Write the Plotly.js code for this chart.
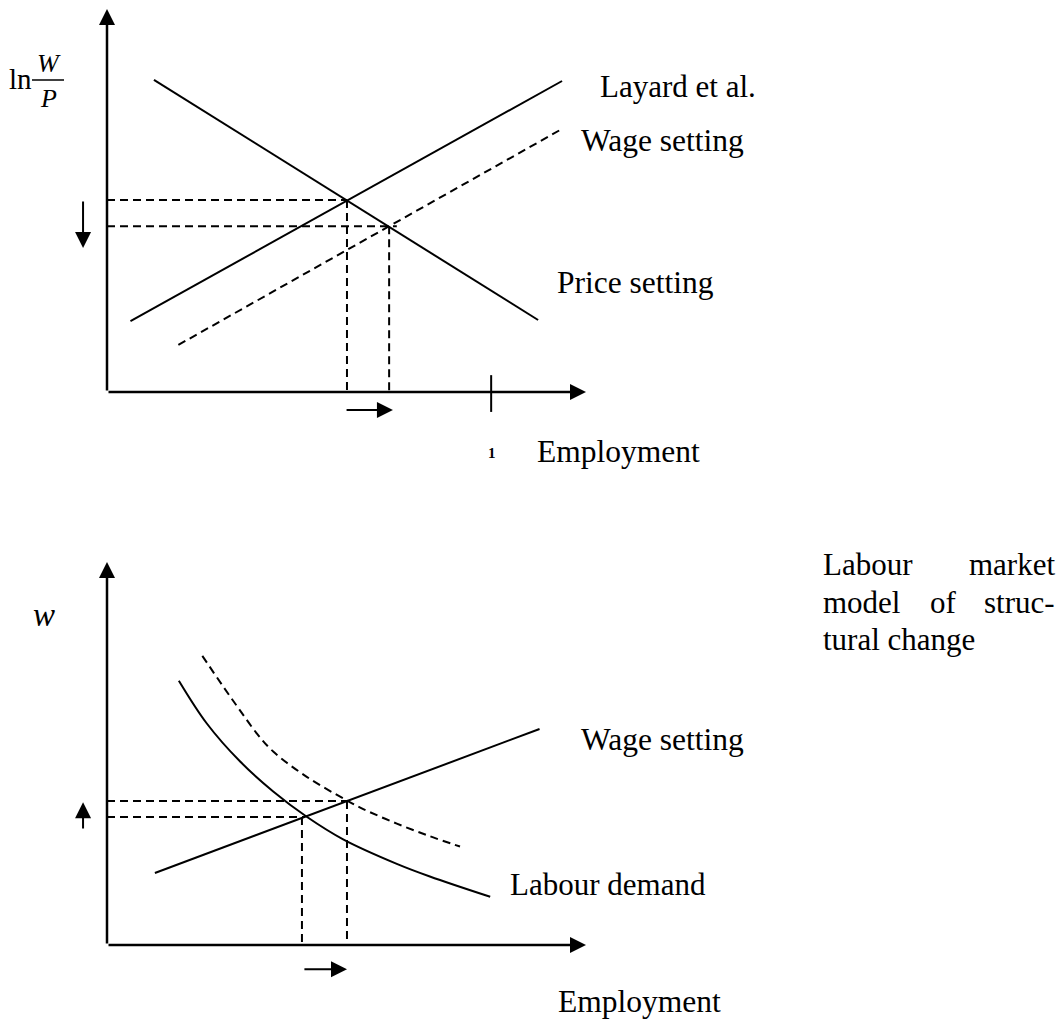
<!DOCTYPE html>
<html>
<head>
<meta charset="utf-8">
<script src="https://cdn.plot.ly/plotly-3.0.1.min.js"></script>
<style>
  html, body { margin: 0; padding: 0; background: #ffffff; }
  #chart { width: 1062px; height: 1021px; }
</style>
</head>
<body>
<div id="chart"></div>
<script>
// ---------------- DATA (diagram units: axes run 0..10) ----------------
// Axes of each diagram (origin to arrow tip)
const axisX = [0, 10];
const axisY = [0, 10];

// Top diagram: Layard et al.
const topPriceX   = [0.98, 9.0];
const topPriceY   = [8.15, 1.88];
const topWageX    = [0.49, 9.5];
const topWageY    = [1.85, 8.12];
const topWageNewX = [1.49, 9.5];
const topWageNewY = [1.23, 6.87];
const topEqOld    = [5.01, 5.01];   // [employment, ln W/P]
const topEqNew    = [5.89, 4.33];
const topGuideEnd = 6.05;           // horizontal guide of new equilibrium ends here
const topTickX    = 8.02;           // full-employment tick
const topTickY    = [0.44, -0.52];
const topDownArrowX = -0.5, topDownArrowY = [5.01, 3.76];
const topRightArrowY = -0.47, topRightArrowX = [4.97, 5.97];

// Bottom diagram: labour market model of structural change
const botWageX = [1.0, 9.03];
const botWageY = [1.88, 5.64];
const botDemandX = [1.50, 2.08, 2.78, 3.47, 4.17, 4.93, 6.05, 6.74, 8.00];
const botDemandY = [6.90, 5.79, 4.79, 4.01, 3.35, 2.76, 2.12, 1.79, 1.26];
const botDemandNewX = [1.99, 2.43, 2.78, 3.13, 3.47, 4.17, 5.00, 5.35, 6.05, 6.74, 7.37];
const botDemandNewY = [7.55, 6.74, 6.12, 5.52, 5.05, 4.39, 3.78, 3.55, 3.17, 2.84, 2.57];
const botEqOldY = 3.34, botEqOldX = 4.07;
const botEqNewY = 3.76, botEqNewX = 5.01;
const botOldGuideEnd = 4.13;
const botUpArrowX = -0.5, botUpArrowY = [3.0, 3.73];
const botRightArrowY = -0.63, botRightArrowX = [4.09, 5.01];

// ---------------- LAYOUT GEOMETRY ----------------
const W = 1062, H = 1021;
const SX = 47.9, SY = 38.3;           // px per diagram unit
const ORIGIN_X = 107;                  // px of employment = 0
const TOP_ORIGIN_Y = 392, BOT_ORIGIN_Y = 945;

const FONT = "Liberation Serif, 'Times New Roman', Times, serif";
const BLACK = '#000000';
const DASH = '8px,5px';

function line(x, y, yaxis, dashed, width) {
  return {
    type: 'scatter', mode: 'lines', x: x, y: y, yaxis: yaxis,
    line: {color: BLACK, width: width || 2, dash: dashed ? DASH : 'solid'},
    hoverinfo: 'skip', showlegend: false
  };
}
function curve(x, y, yaxis, dashed) {
  const t = line(x, y, yaxis, dashed, 2);
  t.line.shape = 'spline';
  t.line.smoothing = 1;
  return t;
}

const traces = [
  // top diagram
  line(topPriceX, topPriceY, 'y', false),
  line(topWageX, topWageY, 'y', false),
  line(topWageNewX, topWageNewY, 'y', true),
  line([0, topEqOld[0]], [topEqOld[1], topEqOld[1]], 'y', true),
  line([0, topGuideEnd], [topEqNew[1], topEqNew[1]], 'y', true),
  line([topEqOld[0], topEqOld[0]], [topEqOld[1], 0], 'y', true),
  line([topEqNew[0], topEqNew[0]], [topEqNew[1], 0], 'y', true),
  line([topTickX, topTickX], topTickY, 'y', false, 2),
  // bottom diagram
  line(botWageX, botWageY, 'y2', false),
  curve(botDemandX, botDemandY, 'y2', false),
  curve(botDemandNewX, botDemandNewY, 'y2', true),
  line([0, botEqNewX], [botEqNewY, botEqNewY], 'y2', true),
  line([0, botOldGuideEnd], [botEqOldY, botEqOldY], 'y2', true),
  line([botEqOldX, botEqOldX], [botEqOldY, 0], 'y2', true),
  line([botEqNewX, botEqNewX], [botEqNewY, 0], 'y2', true)
];

// arrows (annotation arrows in data coordinates)
function arrow(x0, y0, x1, y1, yref, w, s) {
  return {
    xref: 'x', yref: yref, axref: 'x', ayref: yref,
    x: x1, y: y1, ax: x0, ay: y0, text: '',
    showarrow: true, arrowhead: 2, arrowwidth: w, arrowsize: s,
    arrowcolor: BLACK, standoff: 0, startstandoff: 0
  };
}
// label helper in pixel positions of the page
function label(text, xpx, ypx, size, opts) {
  return Object.assign({
    xref: 'paper', yref: 'paper', x: xpx / W, y: 1 - ypx / H,
    xanchor: 'left', yanchor: 'middle', showarrow: false,
    text: text, borderpad: 0, borderwidth: 0,
    font: {family: FONT, size: size, color: BLACK}
  }, opts || {});
}

const annotations = [
  // axes
  arrow(axisX[0], axisY[0], axisX[1], axisY[0], 'y', 2.5, 1.28),
  arrow(axisX[0], axisY[0], axisX[0], axisY[1], 'y', 2.5, 1.28),
  arrow(axisX[0], axisY[0], axisX[1], axisY[0], 'y2', 2.5, 1.28),
  arrow(axisX[0], axisY[0], axisX[0], axisY[1], 'y2', 2.5, 1.28),
  // shift arrows
  arrow(topDownArrowX, topDownArrowY[0], topDownArrowX, topDownArrowY[1], 'y', 2, 1.6),
  arrow(topRightArrowX[0], topRightArrowY, topRightArrowX[1], topRightArrowY, 'y', 2, 1.6),
  arrow(botUpArrowX, botUpArrowY[0], botUpArrowX, botUpArrowY[1], 'y2', 2, 1.6),
  arrow(botRightArrowX[0], botRightArrowY, botRightArrowX[1], botRightArrowY, 'y2', 2, 1.6),

  // text – top diagram
  label('ln', 9, 78.5, 29),
  label('<i>W</i>', 37, 63, 26),
  label('<i>P</i>', 40, 99, 26),
  label('Layard et al.', 600, 86.5, 31),
  label('Wage setting', 581, 141, 31.5),
  label('Price setting', 557, 282.5, 31.5),
  label('<b>1</b>', 492, 453, 15, {xanchor: 'center'}),
  label('Employment', 537, 451.5, 31.5),

  // text – bottom diagram
  label('<i>w</i>', 33, 614.5, 33),
  label('Labour', 823, 564.5, 31),
  label('market', 1055, 564.5, 31, {xanchor: 'right'}),
  label('model', 823, 602.5, 31),
  label('of', 930, 602.5, 31),
  label('struc-', 1055, 602.5, 31, {xanchor: 'right'}),
  label('tural change', 823, 639.5, 31),
  label('Wage setting', 581, 739.5, 31.5),
  label('Labour demand', 510, 884, 31),
  label('Employment', 558, 1001.5, 31.5)
];

const layout = {
  width: W, height: H,
  margin: {l: 0, r: 0, t: 0, b: 0, pad: 0},
  paper_bgcolor: '#ffffff', plot_bgcolor: '#ffffff',
  showlegend: false,
  xaxis: {range: [-ORIGIN_X / SX, (W - ORIGIN_X) / SX], visible: false, fixedrange: true},
  yaxis: {range: [(TOP_ORIGIN_Y - H) / SY, TOP_ORIGIN_Y / SY], visible: false, fixedrange: true},
  yaxis2: {range: [(BOT_ORIGIN_Y - H) / SY, BOT_ORIGIN_Y / SY], visible: false,
           overlaying: 'y', fixedrange: true},
  annotations: annotations,
  shapes: [
    // fraction bar of ln W/P
    {type: 'line', xref: 'paper', yref: 'paper',
     x0: 32 / W, x1: 64 / W, y0: 1 - 80 / H, y1: 1 - 80 / H,
     line: {color: BLACK, width: 1.5}}
  ]
};

Plotly.newPlot('chart', traces, layout, {displayModeBar: false, staticPlot: true});
</script>
</body>
</html>
